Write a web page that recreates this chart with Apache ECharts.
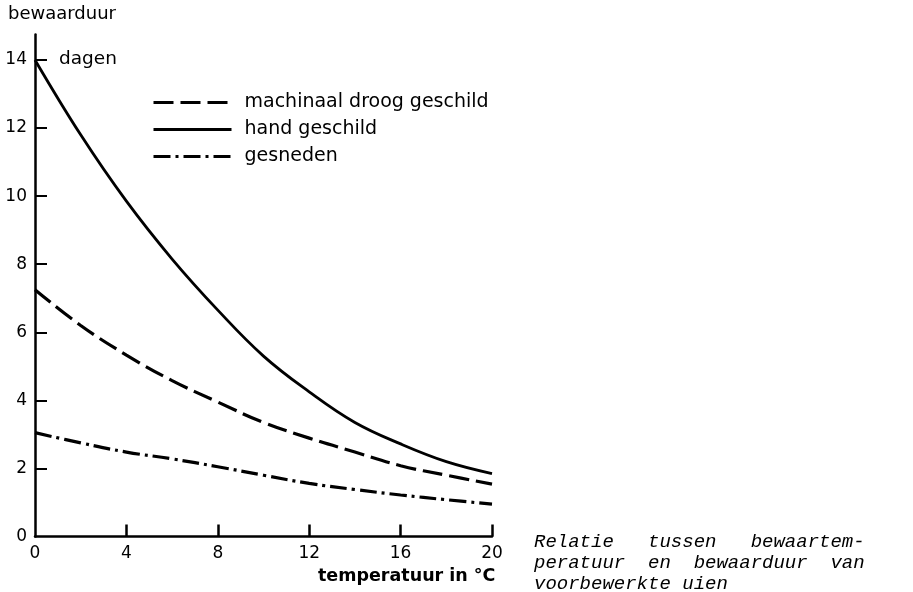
<!DOCTYPE html>
<html>
<head>
<meta charset="utf-8">
<script src="https://cdn.jsdelivr.net/npm/echarts@6/dist/echarts.min.js"></script>
<style>
html,body{margin:0;padding:0;background:#fff;}
#chart{width:913px;height:592px;}
</style>
</head>
<body>
<div id="chart"></div>
<script>
// temperature (°C)
var temps = [0, 2, 4, 6, 8, 10, 12, 14, 16, 18, 20];
// bewaarduur (dagen)
var machinaal = [7.25, 6.2, 5.33, 4.58, 3.95, 3.35, 2.89, 2.48, 2.08, 1.8, 1.54];
var hand      = [14.0, 11.8, 9.85, 8.15, 6.65, 5.3, 4.25, 3.35, 2.72, 2.2, 1.85];
var gesneden  = [3.05, 2.75, 2.48, 2.28, 2.05, 1.8, 1.56, 1.38, 1.22, 1.08, 0.95];
var seriesNames = ['machinaal droog geschild', 'hand geschild', 'gesneden'];
var xTickLabels = [0, 4, 8, 12, 16, 20];
var yTickLabels = [0, 2, 4, 6, 8, 10, 12, 14];

function pairs(vals) { return temps.map(function (t, i) { return [t, vals[i]]; }); }

var font = 'DejaVu Sans';
var chart = echarts.init(document.getElementById('chart'), null, { renderer: 'canvas' });
chart.setOption({
  animation: false,
  backgroundColor: '#ffffff',
  grid: { left: 35, right: 421, top: 34.4, bottom: 55.5, containLabel: false },
  xAxis: {
    type: 'value', min: 0, max: 20, interval: 4,
    axisLine: { lineStyle: { color: '#000', width: 2.5 } },
    axisTick: { inside: true, length: 12, lineStyle: { color: '#000', width: 2.5 },
      customValues: xTickLabels.slice(1) },
    axisLabel: { color: '#000', fontFamily: font, fontSize: 17, margin: 9,
      customValues: xTickLabels },
    splitLine: { show: false }
  },
  yAxis: {
    type: 'value', min: 0, max: 14.75,
    axisLine: { show: true, lineStyle: { color: '#000', width: 2.5 } },
    axisTick: { show: true, inside: true, length: 12, lineStyle: { color: '#000', width: 2 },
      customValues: yTickLabels.slice(1) },
    axisLabel: { color: '#000', fontFamily: font, fontSize: 17, margin: 8,
      customValues: yTickLabels },
    splitLine: { show: false }
  },
  legend: {
    orient: 'vertical', left: 147, top: 88, itemWidth: 78, itemHeight: 14, itemGap: 8,
    data: seriesNames,
    itemStyle: { opacity: 0 },
    lineStyle: { width: 3 },
    textStyle: { color: '#000', fontFamily: font, fontSize: 19, padding: [0, 0, 0, 8] }
  },
  series: [
    { name: seriesNames[0], type: 'line', data: pairs(machinaal), smooth: 0.4, symbol: 'none',
      itemStyle: { color: '#000' },
      lineStyle: { color: '#000', width: 3.2, type: [20, 7] } },
    { name: seriesNames[1], type: 'line', data: pairs(hand), smooth: 0.4, symbol: 'none',
      itemStyle: { color: '#000' },
      lineStyle: { color: '#000', width: 2.8, type: 'solid' } },
    { name: seriesNames[2], type: 'line', data: pairs(gesneden), smooth: 0.4, symbol: 'none',
      itemStyle: { color: '#000' },
      lineStyle: { color: '#000', width: 3.2, type: [17, 5, 3, 5] } }
  ],
  graphic: [
    { type: 'text', left: 8, top: 5, style: { text: 'bewaarduur', fill: '#000', font: '18px "DejaVu Sans"' } },
    { type: 'text', left: 59, top: 50, style: { text: 'dagen', fill: '#000', font: '18.5px "DejaVu Sans"' } },
    { type: 'text', left: 318, top: 567, style: { text: 'temperatuur in °C', fill: '#000', font: 'bold 17.5px "DejaVu Sans"' } },
    { type: 'text', left: 534, top: 531, style: {
      text: 'Relatie   tussen   bewaartem-\nperatuur  en  bewaarduur  van\nvoorbewerkte uien',
      fill: '#000', font: 'italic 19px "Liberation Mono"', lineHeight: 21 } }
  ]
});
</script>
</body>
</html>
